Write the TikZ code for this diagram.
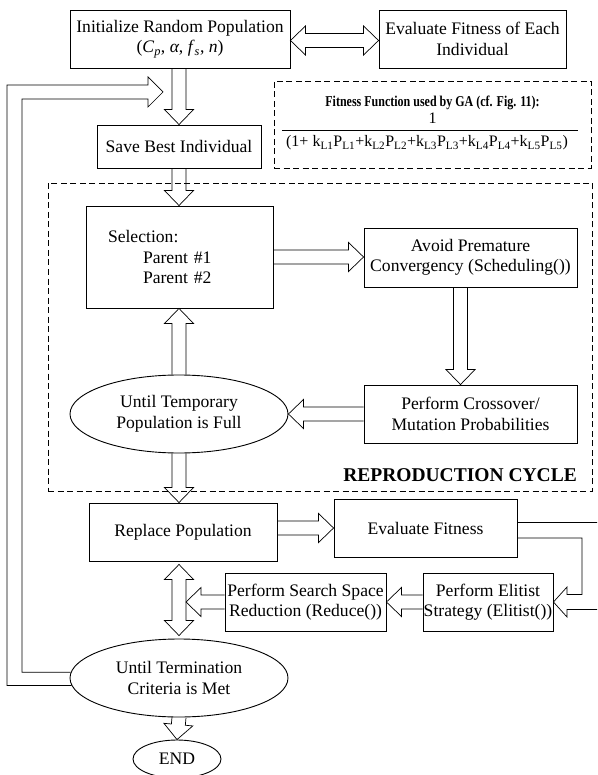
\documentclass[tikz,border=0pt]{standalone}
\usepackage{graphicx}
\usepackage{fontspec}
\setmainfont{Liberation Serif}
\usetikzlibrary{calc,shapes.geometric}
\newcommand{\bodysize}{\fontsize{17.6}{20.5}\selectfont}

% hollow block arrow: tail #1, tip #2
\newcommand{\blockarrow}[2]{%
  \coordinate (bt) at #1; \coordinate (bh) at #2;
  \coordinate (bb) at ($(bh)!15pt!(bt)$);
  \draw[arrline] ($(bt)!7pt!90:(bh)$) -- ($(bb)!7pt!90:(bh)$) -- ($(bb)!14.5pt!90:(bh)$) -- (bh)
    -- ($(bb)!14.5pt!-90:(bh)$) -- ($(bb)!7pt!-90:(bh)$) -- ($(bt)!7pt!-90:(bh)$);}
% hollow block arrow with two heads
\newcommand{\dblockarrow}[2]{%
  \coordinate (bt) at #1; \coordinate (bh) at #2;
  \coordinate (ba) at ($(bt)!15pt!(bh)$); \coordinate (bb) at ($(bh)!15pt!(bt)$);
  \draw[arrline] (bt) -- ($(ba)!14.5pt!90:(bh)$) -- ($(ba)!7pt!90:(bh)$) -- ($(bb)!7pt!90:(bh)$)
    -- ($(bb)!14.5pt!90:(bh)$) -- (bh) -- ($(bb)!14.5pt!-90:(bh)$) -- ($(bb)!7pt!-90:(bh)$)
    -- ($(ba)!7pt!-90:(bh)$) -- ($(ba)!14.5pt!-90:(bh)$) -- cycle;}

\begin{document}
\begin{tikzpicture}[x=1pt,y=-1pt,
    box/.style={draw,line width=0.9pt,minimum height=58pt,inner sep=0pt,align=center,font=\bodysize},
    oval/.style={draw,ellipse,line width=0.9pt,minimum width=218pt,minimum height=78pt,inner sep=0pt,align=center,font=\bodysize},
    dashbox/.style={draw,line width=0.8pt,dash pattern=on 6pt off 3.5pt,inner sep=0pt},
    arrline/.style={line width=0.7pt,line join=miter}]
  \useasboundingbox (0,0) rectangle (597,775);
  \clip (0,0) rectangle (597,775);
  % top row
  \node[box,minimum width=220pt] (init) at (180,39) {Initialize Random Population\\(\textit{C}\textsubscript{\textit{p}}, \textit{α}, \textit{f}\textsubscript{\textit{s}}, \textit{n})};
  \node[box,minimum width=187pt] (evalall) at (472.5,39) {Evaluate Fitness of Each\\Individual};
  \dblockarrow{($(init.east)+(0,1.5)$)}{($(evalall.west)+(0,1.5)$)}
  % fitness function
  \node[dashbox,minimum width=317pt,minimum height=87pt] (fitfun) at (432.5,124.5) {};
  \node[font=\bfseries\fontsize{15}{18}\selectfont,inner sep=0pt] (fittitle) at (432.5,103) {\scalebox{0.8}[1]{Fitness Function used by GA (cf. Fig. 11):}};
  \node[font=\fontsize{16}{19}\selectfont,inner sep=0pt] (fitnum) at (432.5,118) {1};
  \node[font=\fontsize{16}{19}\selectfont,inner sep=0pt] (fitden) at (427,143) {(1+ k\textsubscript{L1}P\textsubscript{L1}+k\textsubscript{L2}P\textsubscript{L2}+k\textsubscript{L3}P\textsubscript{L3}+k\textsubscript{L4}P\textsubscript{L4}+k\textsubscript{L5}P\textsubscript{L5})};
  \draw[line width=0.6pt] ($(fitden.west)+(-4,-13)$) -- ($(fitden.east)+(10,-13)$);
  \node[box,minimum width=164pt,minimum height=43pt] (save) at (179,146.5) {Save Best Individual};
  \blockarrow{(init.south -| save.north)}{(save.north)}
  % reproduction cycle
  \node[dashbox,minimum width=544pt,minimum height=308pt] (repro) at (320,337) {};
  \node[box,minimum height=102pt,align=left,text width=143pt,inner xsep=22pt] (select) at (179.5,257) {Selection:\\\hspace*{35pt}Parent \#1\\\hspace*{35pt}Parent \#2};
  \node[box,minimum width=213pt,minimum height=59pt] (avoid) at (470.5,257.5) {Avoid Premature\\Convergency (Scheduling())};
  \node[box,minimum width=213pt] (cross) at (470.5,414) {Perform Crossover/\\Mutation Probabilities};
  \node[oval] (temp) at (179,414) {Until Temporary\\Population is Full};
  \node[font=\bfseries\fontsize{19.5}{22}\selectfont,anchor=east,inner sep=0pt] (replabel) at (577,475) {REPRODUCTION CYCLE};
  \blockarrow{(save.south)}{(save.south |- select.north)}
  \blockarrow{(select.east)}{(select.east -| avoid.west)}
  \blockarrow{($(avoid.south)+(-10,0)$)}{($(cross.north)+(-10,0)$)}
  \blockarrow{(cross.west)}{(cross.west -| temp.east)}
  \blockarrow{(temp.north)}{(temp.north |- select.south)}
  % replacement and termination
  \node[box,minimum width=188pt] (repl) at (183,532) {Replace Population};
  \node[box,minimum width=183pt] (evalfit) at (425.5,528) {Evaluate Fitness};
  \node[box,minimum width=130pt] (elit) at (488,602) {Perform Elitist\\Strategy (Elitist())};
  \node[box,minimum width=161pt] (reduce) at (305.5,602) {Perform Search Space\\Reduction (Reduce())};
  \node[oval] (term) at (179,678) {Until Termination\\Criteria is Met};
  \node[oval,minimum width=88pt,minimum height=38pt] (fin) at (177,759) {END};
  \blockarrow{(temp.south)}{(temp.south |- repl.north)}
  \blockarrow{(repl.east |- evalfit.west)}{(evalfit.west)}
  \blockarrow{(elit.west)}{(reduce.east)}
  \coordinate (dblR) at ($(term.north |- reduce.west)+(7,0)$);
  \blockarrow{(reduce.west)}{(dblR)}
  \dblockarrow{($(term.north |- repl.south)+(0,3)$)}{($(term.north)+(0,-3)$)}
  \blockarrow{(term.south)}{(fin.north)}
  % loop back to the start
  \coordinate (loopin) at (163,92);
  \draw[arrline] (term.177) -| (22,99) -- (148,99) -- (148,107) -- (loopin) -- (148,77) -- (148,85) -- (7,85) |- (term.184);
  % loop from evaluation to elitism
  \draw[arrline] ($(evalfit.east)+(0,-6)$) -- (610,522);
  \draw[arrline] ($(evalfit.east)+(0,10)$) -| (582,594.5) -- (567,594.5) -- (567,587) -- (elit.east) -- (567,617) -- (567,609.5) -- (610,609.5);
\end{tikzpicture}
\end{document}
